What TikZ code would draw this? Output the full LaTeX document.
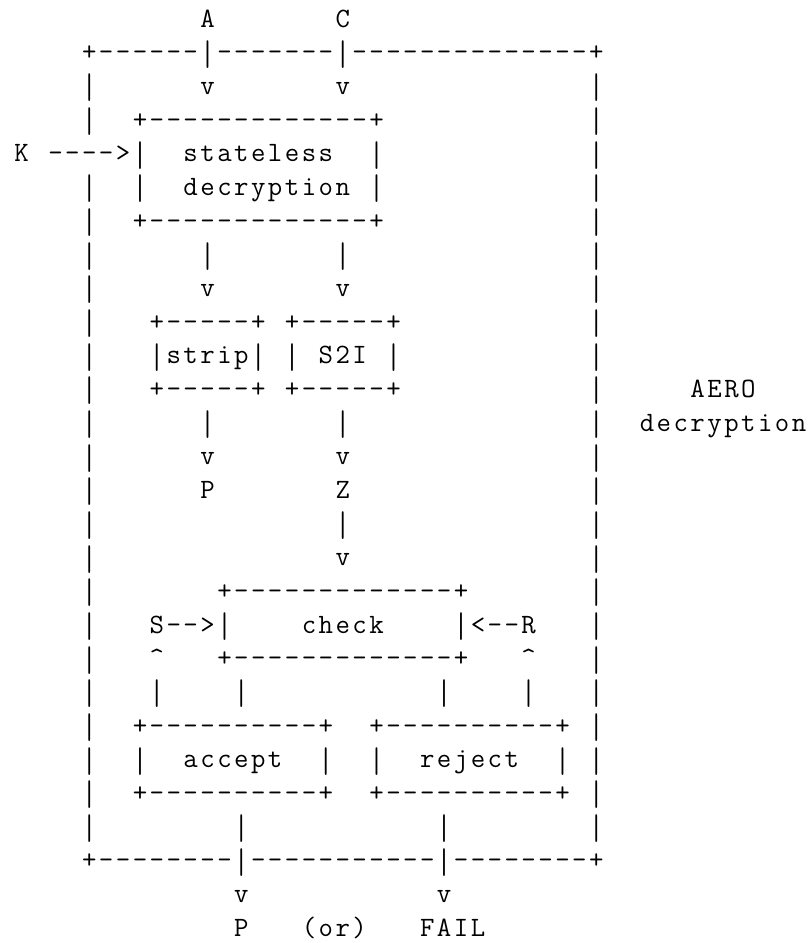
\documentclass[tikz,border=0pt]{standalone}
\newlength\cellw
\setlength\cellw{12.675pt}
\makeatletter
\newcommand\vbar{\raisebox{-5.55pt}{\resizebox*{\width}{20.8pt}{\raisebox{\depth}{|}}}}
\def\mono#1{\mono@i#1\relax}
\def\mono@i#1{\ifx#1\relax\else\hbox to \cellw{\hss\mono@c#1\hss}\expandafter\mono@i\fi}
\def\mono@c#1{\ifx#1|\vbar\else#1\fi}
\makeatother
\begin{document}
\begin{tikzpicture}[x=12.675pt,y=-25.2525pt,
  t/.style={anchor=base west,inner sep=0pt,outer sep=0pt,text=black,
    font=\ttfamily\fontsize{21pt}{25.25pt}\selectfont}]
\fill[white] (0pt,0pt) rectangle (606.75pt,-707.25pt);
\useasboundingbox (0pt,0pt) rectangle (606.75pt,-707.25pt);
\begin{scope}[shift={(9.9375pt,5pt)}]
% line 1
\node[t] (inA) at (11,1) {\mono{A}};
\node[t] (inC) at (19,1) {\mono{C}};
% line 2
\node[t] (topborder) at (4,2) {\mono{+------|-------|--------------+}};
% line 3
\node[t] (b3l) at (4,3) {\mono{|}};
\node[t] (vA) at (11,3) {\mono{v}};
\node[t] (vC) at (19,3) {\mono{v}};
\node[t] (b3r) at (34,3) {\mono{|}};
% line 4
\node[t] (b4l) at (4,4) {\mono{|}};
\node[t] (sdtop) at (7,4) {\mono{+-------------+}};
\node[t] (b4r) at (34,4) {\mono{|}};
% line 5
\node[t] (inK) at (0,5) {\mono{K\ ---->|}};
\node[t] (sd1) at (10,5) {\mono{stateless}};
\node[t] (sd5r) at (21,5) {\mono{|}};
\node[t] (b5r) at (34,5) {\mono{|}};
% line 6
\node[t] (b6l) at (4,6) {\mono{|}};
\node[t] (sd6l) at (7,6) {\mono{|}};
\node[t] (sd2) at (10,6) {\mono{decryption}};
\node[t] (sd6r) at (21,6) {\mono{|}};
\node[t] (b6r) at (34,6) {\mono{|}};
% line 7
\node[t] (b7l) at (4,7) {\mono{|}};
\node[t] (sdbot) at (7,7) {\mono{+-------------+}};
\node[t] (b7r) at (34,7) {\mono{|}};
% line 8
\node[t] (b8l) at (4,8) {\mono{|}};
\node[t] (s8a) at (11,8) {\mono{|}};
\node[t] (s8b) at (19,8) {\mono{|}};
\node[t] (b8r) at (34,8) {\mono{|}};
% line 9
\node[t] (b9l) at (4,9) {\mono{|}};
\node[t] (v9a) at (11,9) {\mono{v}};
\node[t] (v9b) at (19,9) {\mono{v}};
\node[t] (b9r) at (34,9) {\mono{|}};
% line 10
\node[t] (b10l) at (4,10) {\mono{|}};
\node[t] (sstop) at (8,10) {\mono{+-----+\ +-----+}};
\node[t] (b10r) at (34,10) {\mono{|}};
% line 11
\node[t] (b11l) at (4,11) {\mono{|}};
\node[t] (ssmid) at (8,11) {\mono{|strip|\ |\ S2I\ |}};
\node[t] (b11r) at (34,11) {\mono{|}};
% line 12
\node[t] (b12l) at (4,12) {\mono{|}};
\node[t] (ssbot) at (8,12) {\mono{+-----+\ +-----+}};
\node[t] (b12r) at (34,12) {\mono{|}};
\node[t] (lab1) at (40,12) {\mono{AERO}};
% line 13
\node[t] (b13l) at (4,13) {\mono{|}};
\node[t] (s13a) at (11,13) {\mono{|}};
\node[t] (s13b) at (19,13) {\mono{|}};
\node[t] (b13r) at (34,13) {\mono{|}};
\node[t] (lab2) at (37,13) {\mono{decryption}};
% line 14
\node[t] (b14l) at (4,14) {\mono{|}};
\node[t] (v14a) at (11,14) {\mono{v}};
\node[t] (v14b) at (19,14) {\mono{v}};
\node[t] (b14r) at (34,14) {\mono{|}};
% line 15
\node[t] (b15l) at (4,15) {\mono{|}};
\node[t] (outP) at (11,15) {\mono{P}};
\node[t] (outZ) at (19,15) {\mono{Z}};
\node[t] (b15r) at (34,15) {\mono{|}};
% line 16
\node[t] (b16l) at (4,16) {\mono{|}};
\node[t] (s16) at (19,16) {\mono{|}};
\node[t] (b16r) at (34,16) {\mono{|}};
% line 17
\node[t] (b17l) at (4,17) {\mono{|}};
\node[t] (v17) at (19,17) {\mono{v}};
\node[t] (b17r) at (34,17) {\mono{|}};
% line 18
\node[t] (b18l) at (4,18) {\mono{|}};
\node[t] (cktop) at (12,18) {\mono{+-------------+}};
\node[t] (b18r) at (34,18) {\mono{|}};
% line 19
\node[t] (b19l) at (4,19) {\mono{|}};
\node[t] (inS) at (8,19) {\mono{S-->|}};
\node[t] (ck) at (17,19) {\mono{check}};
\node[t] (inR) at (26,19) {\mono{|<--R}};
\node[t] (b19r) at (34,19) {\mono{|}};
% line 20
\node[t] (b20l) at (4,20) {\mono{|}};
\node[t] (upS) at (8,20) {\mono{\textasciicircum}};
\node[t] (ckbot) at (12,20) {\mono{+-------------+}};
\node[t] (upR) at (30,20) {\mono{\textasciicircum}};
\node[t] (b20r) at (34,20) {\mono{|}};
% line 21
\node[t] (b21l) at (4,21) {\mono{|}};
\node[t] (s21a) at (8,21) {\mono{|}};
\node[t] (s21b) at (13,21) {\mono{|}};
\node[t] (s21c) at (25,21) {\mono{|}};
\node[t] (s21d) at (30,21) {\mono{|}};
\node[t] (b21r) at (34,21) {\mono{|}};
% line 22
\node[t] (b22l) at (4,22) {\mono{|}};
\node[t] (actop) at (7,22) {\mono{+----------+}};
\node[t] (rjtop) at (21,22) {\mono{+----------+}};
\node[t] (b22r) at (34,22) {\mono{|}};
% line 23
\node[t] (b23l) at (4,23) {\mono{|}};
\node[t] (ac23l) at (7,23) {\mono{|}};
\node[t] (ac) at (10,23) {\mono{accept}};
\node[t] (ac23r) at (18,23) {\mono{|}};
\node[t] (rj23l) at (21,23) {\mono{|}};
\node[t] (rj) at (24,23) {\mono{reject}};
\node[t] (rj23r) at (32,23) {\mono{|}};
\node[t] (b23r) at (34,23) {\mono{|}};
% line 24
\node[t] (b24l) at (4,24) {\mono{|}};
\node[t] (acbot) at (7,24) {\mono{+----------+}};
\node[t] (rjbot) at (21,24) {\mono{+----------+}};
\node[t] (b24r) at (34,24) {\mono{|}};
% line 25
\node[t] (b25l) at (4,25) {\mono{|}};
\node[t] (s25a) at (13,25) {\mono{|}};
\node[t] (s25b) at (25,25) {\mono{|}};
\node[t] (b25r) at (34,25) {\mono{|}};
% line 26
\node[t] (botborder) at (4,26) {\mono{+--------|-----------|--------+}};
% line 27
\node[t] (v27a) at (13,27) {\mono{v}};
\node[t] (v27b) at (25,27) {\mono{v}};
% line 28
\node[t] (outP2) at (13,28) {\mono{P}};
\node[t] (orr) at (17,28) {\mono{(or)}};
\node[t] (fail) at (24,28) {\mono{FAIL}};
\end{scope}
\end{tikzpicture}
\end{document}
